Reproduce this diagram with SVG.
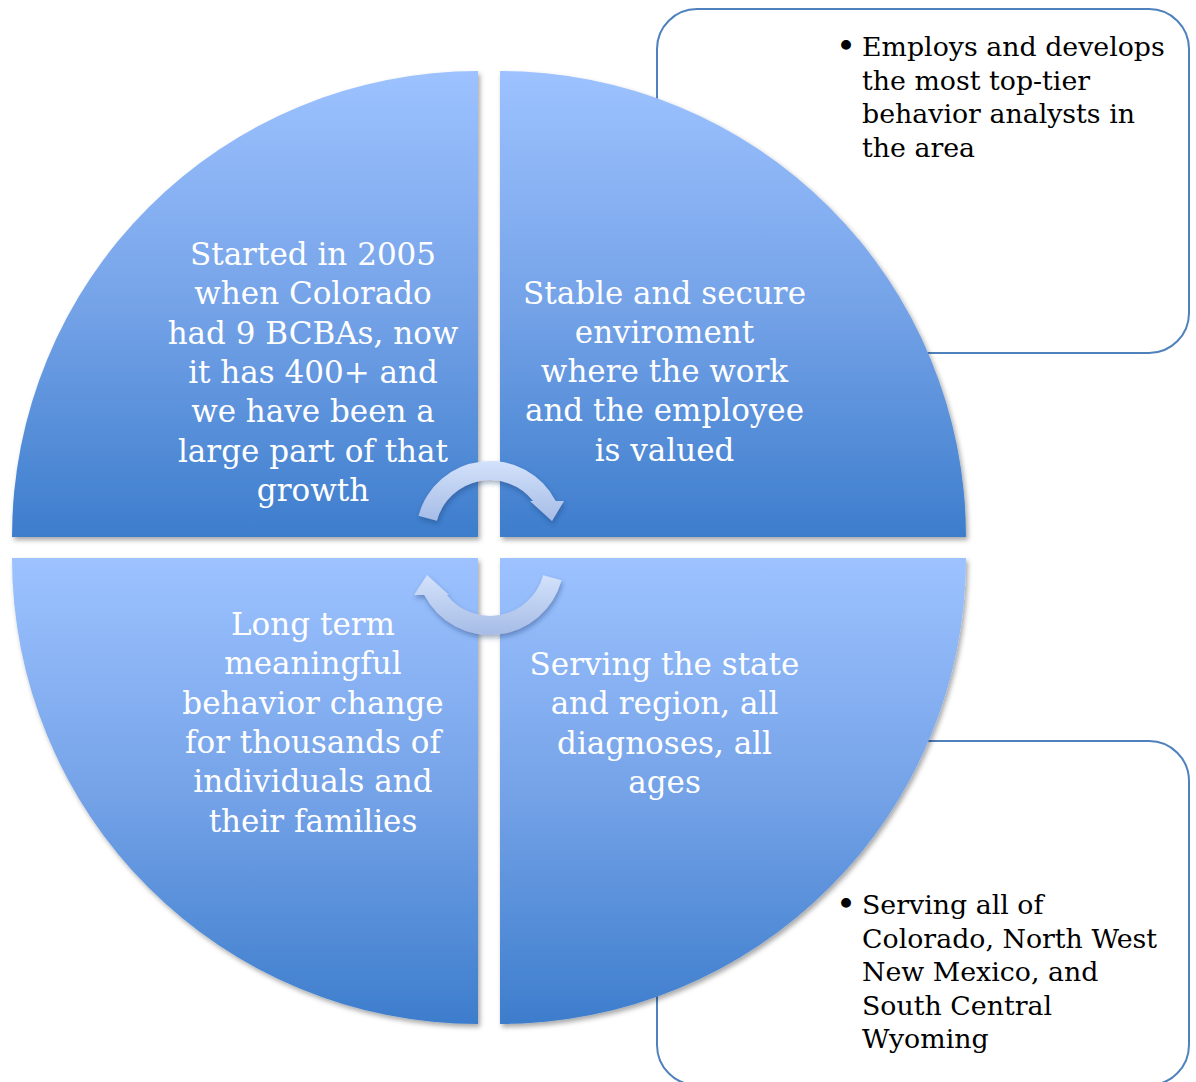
<svg xmlns="http://www.w3.org/2000/svg" width="1196" height="1082" viewBox="0 0 1196 1082">
  <defs>
    <linearGradient id="quadFill" x1="0" y1="0" x2="0" y2="1">
      <stop offset="0" stop-color="#9dc2ff"/>
      <stop offset="0.5" stop-color="#75a3e8"/>
      <stop offset="1" stop-color="#3d7dcc"/>
    </linearGradient>
    <linearGradient id="arrowFill" x1="0" y1="0" x2="0" y2="1">
      <stop offset="0" stop-color="#d3e2fb"/>
      <stop offset="1" stop-color="#a6bce6"/>
    </linearGradient>
    <filter id="quadShadow" x="-5%" y="-5%" width="115%" height="115%">
      <feDropShadow dx="2" dy="3" stdDeviation="2.5" flood-color="#000" flood-opacity="0.35"/>
    </filter>
    <filter id="arrowShadow" x="-20%" y="-20%" width="140%" height="150%">
      <feDropShadow dx="1" dy="3" stdDeviation="2.5" flood-color="#1a3a6a" flood-opacity="0.4"/>
    </filter>
    <style>
      .callout { fill: #ffffff; stroke: #4f81bd; stroke-width: 2; }
      .quad { fill: url(#quadFill); filter: url(#quadShadow); }
      .quadText { font-family: "DejaVu Serif", "Liberation Serif", serif; font-size: 31px; fill: #ffffff; text-anchor: middle; }
      .boxText { font-family: "DejaVu Serif", "Liberation Serif", serif; font-size: 26.8px; fill: #000000; }
      .bullet { font-family: "DejaVu Serif", "Liberation Serif", serif; font-size: 34px; fill: #000000; text-anchor: middle; }
      .cycle { fill: url(#arrowFill); filter: url(#arrowShadow); }
    </style>
  </defs>

  <rect width="1196" height="1082" fill="#ffffff"/>

  <!-- side callout boxes (behind the circle) -->
  <g id="callout-top">
    <rect class="callout" x="657" y="9" width="532" height="344" rx="40" ry="40"/>
    <text class="bullet" x="846" y="58">•</text>
    <text class="boxText" x="862" y="56">Employs and develops</text>
    <text class="boxText" x="862" y="89.7">the most top-tier</text>
    <text class="boxText" x="862" y="123.4">behavior analysts in</text>
    <text class="boxText" x="862" y="157.1">the area</text>
  </g>
  <g id="callout-bottom">
    <rect class="callout" x="657" y="741" width="532" height="344" rx="40" ry="40"/>
    <text class="bullet" x="846" y="916">•</text>
    <text class="boxText" x="862" y="914">Serving all of</text>
    <text class="boxText" x="862" y="947.5">Colorado, North West</text>
    <text class="boxText" x="862" y="981">New Mexico, and</text>
    <text class="boxText" x="862" y="1014.5">South Central</text>
    <text class="boxText" x="862" y="1048">Wyoming</text>
  </g>

  <!-- four quadrants of the circle -->
  <g id="quad-top-left">
    <path class="quad" d="M478 537 L12 537 A466 466 0 0 1 478 71 Z"/>
    <text class="quadText" x="313" y="265">Started in 2005</text>
    <text class="quadText" x="313" y="304.3">when Colorado</text>
    <text class="quadText" x="313" y="343.6">had 9 BCBAs, now</text>
    <text class="quadText" x="313" y="382.9">it has 400+ and</text>
    <text class="quadText" x="313" y="422.2">we have been a</text>
    <text class="quadText" x="313" y="461.5">large part of that</text>
    <text class="quadText" x="313" y="500.8">growth</text>
  </g>
  <g id="quad-top-right">
    <path class="quad" d="M500 537 L500 71 A466 466 0 0 1 966 537 Z"/>
    <text class="quadText" x="664.5" y="303.5">Stable and secure</text>
    <text class="quadText" x="664.5" y="342.8">enviroment</text>
    <text class="quadText" x="664.5" y="382.1">where the work</text>
    <text class="quadText" x="664.5" y="421.4">and the employee</text>
    <text class="quadText" x="664.5" y="460.7">is valued</text>
  </g>
  <g id="quad-bottom-left">
    <path class="quad" d="M478 558 L478 1024 A466 466 0 0 1 12 558 Z"/>
    <text class="quadText" x="313" y="635">Long term</text>
    <text class="quadText" x="313" y="674.3">meaningful</text>
    <text class="quadText" x="313" y="713.6">behavior change</text>
    <text class="quadText" x="313" y="752.9">for thousands of</text>
    <text class="quadText" x="313" y="792.2">individuals and</text>
    <text class="quadText" x="313" y="831.5">their families</text>
  </g>
  <g id="quad-bottom-right">
    <path class="quad" d="M500 558 L966 558 A466 466 0 0 1 500 1024 Z"/>
    <text class="quadText" x="664.5" y="675">Serving the state</text>
    <text class="quadText" x="664.5" y="714.3">and region, all</text>
    <text class="quadText" x="664.5" y="753.6">diagnoses, all</text>
    <text class="quadText" x="664.5" y="792.9">ages</text>
  </g>

  <!-- central cycle arrows -->
  <g id="connectors">
    <path class="cycle" d="M418.5 515.8 A74 74 0 0 1 555.7 501 L564 501 L552 521 L530 501 L533.2 501 A55 55 0 0 0 436.9 520.8 Z"/>
    <path class="cycle" d="M561.5 580.2 A74 74 0 0 1 424.3 595 L414 595 L427 575 L449 595 L446.8 595 A55 55 0 0 0 543.1 575.2 Z"/>
  </g>
</svg>
